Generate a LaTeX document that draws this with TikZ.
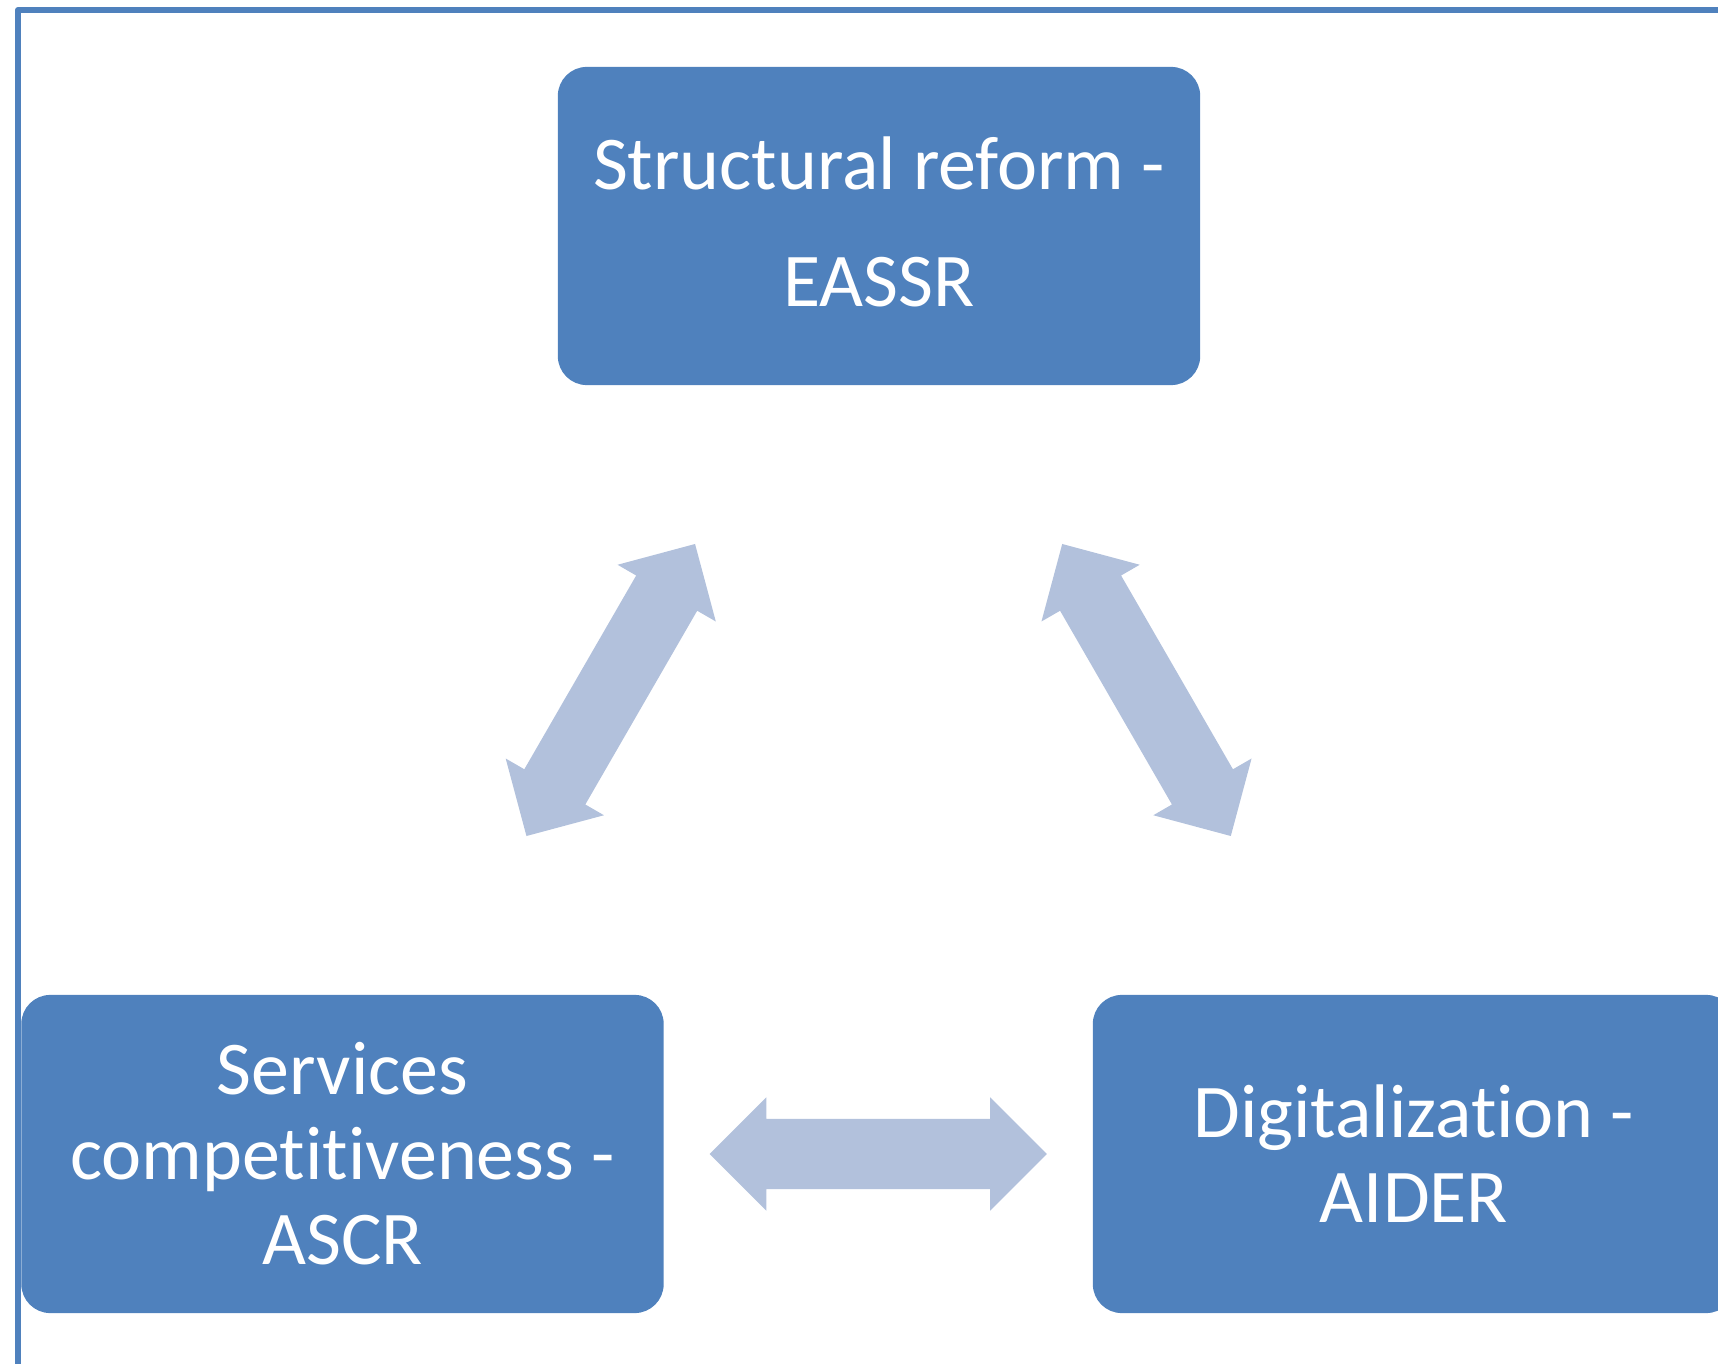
\documentclass[tikz,border=0pt]{standalone}
\usepackage{fontspec}
\setmainfont{Carlito}[Ligatures=NoCommon]
\usetikzlibrary{shapes.arrows,calc,positioning}
\definecolor{boxblue}{RGB}{79,129,189}
\definecolor{arrowblue}{RGB}{178,193,220}

\begin{document}
\begin{tikzpicture}[x=0.01cm, y=-0.01cm,
	comp/.style={rectangle, rounded corners=0.29cm, fill=boxblue, text=white, minimum width=6.42cm, minimum height=3.18cm, align=center, font=\fontsize{21.6}{24.2}\selectfont},
	link/.style={double arrow, fill=arrowblue, inner xsep=0pt, inner ysep=0.345cm, minimum height=3.37cm, double arrow head extend=0.215cm, double arrow tip angle=90}]
					\clip (0,0) rectangle (1718,1364);
					\draw[boxblue, line width=0.06cm, line join=round] (1718,10) -- (18,10) -- (18,1364);

					\node[comp, font=\fontsize{21.6}{33.3}\selectfont, text depth=0.09cm] (eassr) at (879,226) {Structural reform -\\EASSR};
					\node[comp] (ascr) at (342.5,1154) {Services\\competitiveness -\\ASCR};
					\node[comp] (aider) at (1414,1154) {Digitalization -\\AIDER};

					\node[link, rotate=60] (arrl) at ($(eassr)!0.5!(ascr)$) {};
					\node[link, rotate=-60] (arrr) at ($(eassr)!0.5!(aider)$) {};
					\node[link] (arrb) at ($(ascr)!0.5!(aider)$) {};
				\end{tikzpicture}
\end{document}
